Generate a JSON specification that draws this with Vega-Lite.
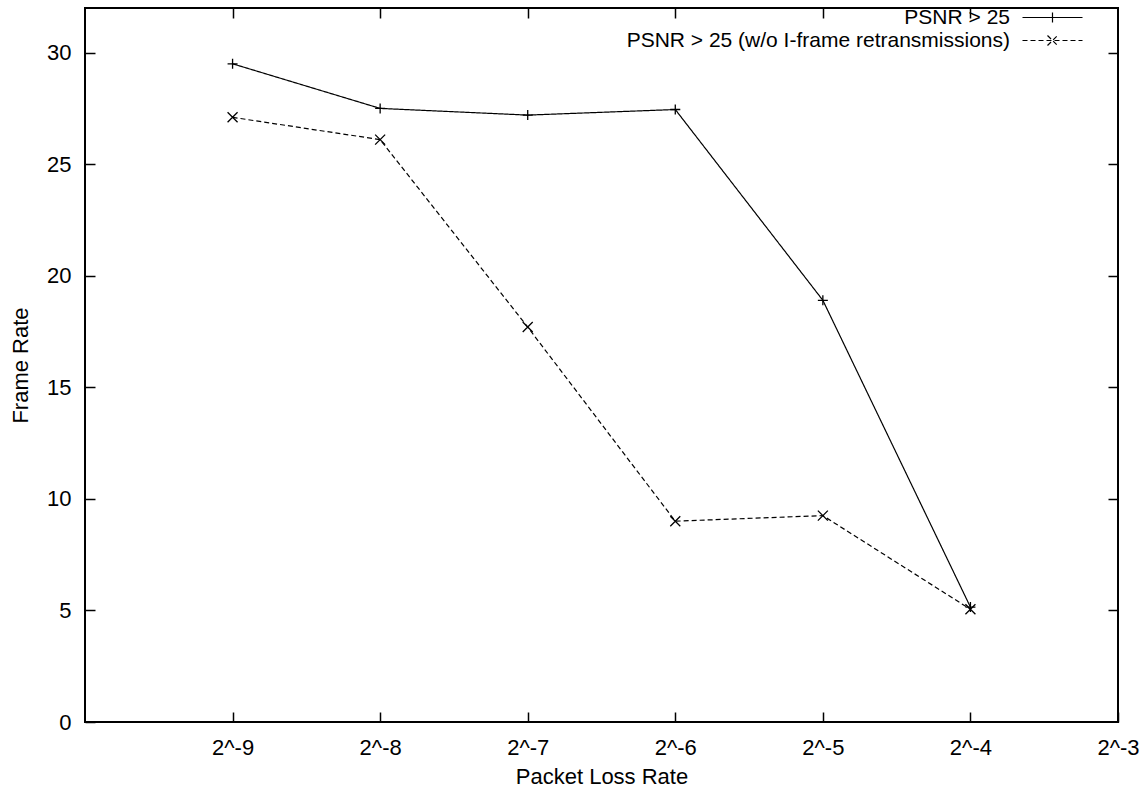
{
  "$schema": "https://vega.github.io/schema/vega-lite/v6.json",
  "autosize": {"type": "none"},
  "width": 1033,
  "height": 714,
  "padding": {"left": 85, "top": 8, "right": 28, "bottom": 69},
  "background": "white",
  "config": {
    "font": "Liberation Sans",
    "view": {"stroke": "black", "strokeWidth": 2},
    "axis": {"grid": false, "labelFont": "Liberation Sans", "titleFont": "Liberation Sans", "labelFontSize": 22, "titleFontSize": 22, "titleFontWeight": "normal", "labelColor": "black", "titleColor": "black", "tickColor": "black", "tickWidth": 1.5, "tickSize": 10, "offset": -10, "domain": false, "labelFlush": false, "labelOverlap": false}
  },
  "data": {"values": [
    {"exp": -9, "rate": 29.5, "series": "PSNR > 25"},
    {"exp": -8, "rate": 27.5, "series": "PSNR > 25"},
    {"exp": -7, "rate": 27.2, "series": "PSNR > 25"},
    {"exp": -6, "rate": 27.45, "series": "PSNR > 25"},
    {"exp": -5, "rate": 18.9, "series": "PSNR > 25"},
    {"exp": -4, "rate": 5.15, "series": "PSNR > 25"},
    {"exp": -9, "rate": 27.1, "series": "PSNR > 25 (w/o I-frame retransmissions)"},
    {"exp": -8, "rate": 26.1, "series": "PSNR > 25 (w/o I-frame retransmissions)"},
    {"exp": -7, "rate": 17.7, "series": "PSNR > 25 (w/o I-frame retransmissions)"},
    {"exp": -6, "rate": 9.0, "series": "PSNR > 25 (w/o I-frame retransmissions)"},
    {"exp": -5, "rate": 9.25, "series": "PSNR > 25 (w/o I-frame retransmissions)"},
    {"exp": -4, "rate": 5.05, "series": "PSNR > 25 (w/o I-frame retransmissions)"}
  ]},
  "resolve": {"axis": {"x": "independent", "y": "independent"}},
  "layer": [
    {
      "mark": {"type": "line", "color": "black", "strokeWidth": 1.2},
      "encoding": {
        "x": {"field": "exp", "type": "quantitative", "scale": {"domain": [-10, -3], "nice": false, "zero": false},
              "axis": {"title": "Packet Loss Rate", "values": [-9, -8, -7, -6, -5, -4, -3], "labelExpr": "'2^' + datum.value", "labelPadding": 15, "titlePadding": 8}},
        "y": {"field": "rate", "type": "quantitative", "scale": {"domain": [0, 32], "nice": false},
              "axis": {"title": "Frame Rate", "values": [0, 5, 10, 15, 20, 25, 30], "labelPadding": 14, "titlePadding": 14}},
        "strokeDash": {"field": "series", "type": "nominal",
          "scale": {"domain": ["PSNR > 25", "PSNR > 25 (w/o I-frame retransmissions)"], "range": [[1, 0], [5, 3]]},
          "legend": {
            "title": null, "orient": "none", "legendX": 957, "legendY": -1, "padding": 0,
            "symbolSize": 100, "symbolStrokeWidth": 1.2, "symbolStrokeColor": "black",
            "labelAlign": "right", "labelOffset": -53, "labelFontSize": 21, "labelFont": "Liberation Sans", "labelColor": "black", "labelLimit": 0,
            "rowPadding": 1,
            "encode": {"symbols": {"update": {
              "shape": {"signal": "datum.value === 'PSNR > 25' ? 'M-6,0H6M0,-1V1' : 'M-6,0H6M-1,-1L1,1M-1,1L1,-1'"},
              "fill": {"value": "transparent"},
              "stroke": {"value": "black"}
            }}}
          }}
      }
    },
    {
      "transform": [{"filter": "datum.series === 'PSNR > 25'"}],
      "mark": {"type": "point", "filled": false, "color": "black", "strokeWidth": 1.3, "size": 100, "opacity": 1, "shape": "M-1,0H1M0,-1V1"},
      "encoding": {
        "x": {"field": "exp", "type": "quantitative", "axis": {"orient": "top", "labels": false, "title": null, "values": [-9, -8, -7, -6, -5, -4]}},
        "y": {"field": "rate", "type": "quantitative", "axis": {"orient": "right", "labels": false, "title": null, "values": [5, 10, 15, 20, 25, 30]}}
      }
    },
    {
      "transform": [{"filter": "datum.series !== 'PSNR > 25'"}],
      "mark": {"type": "point", "filled": false, "color": "black", "strokeWidth": 1.3, "size": 100, "opacity": 1, "shape": "M-1,-1L1,1M-1,1L1,-1"},
      "encoding": {
        "x": {"field": "exp", "type": "quantitative", "axis": null},
        "y": {"field": "rate", "type": "quantitative", "axis": null}
      }
    }
  ]
}
